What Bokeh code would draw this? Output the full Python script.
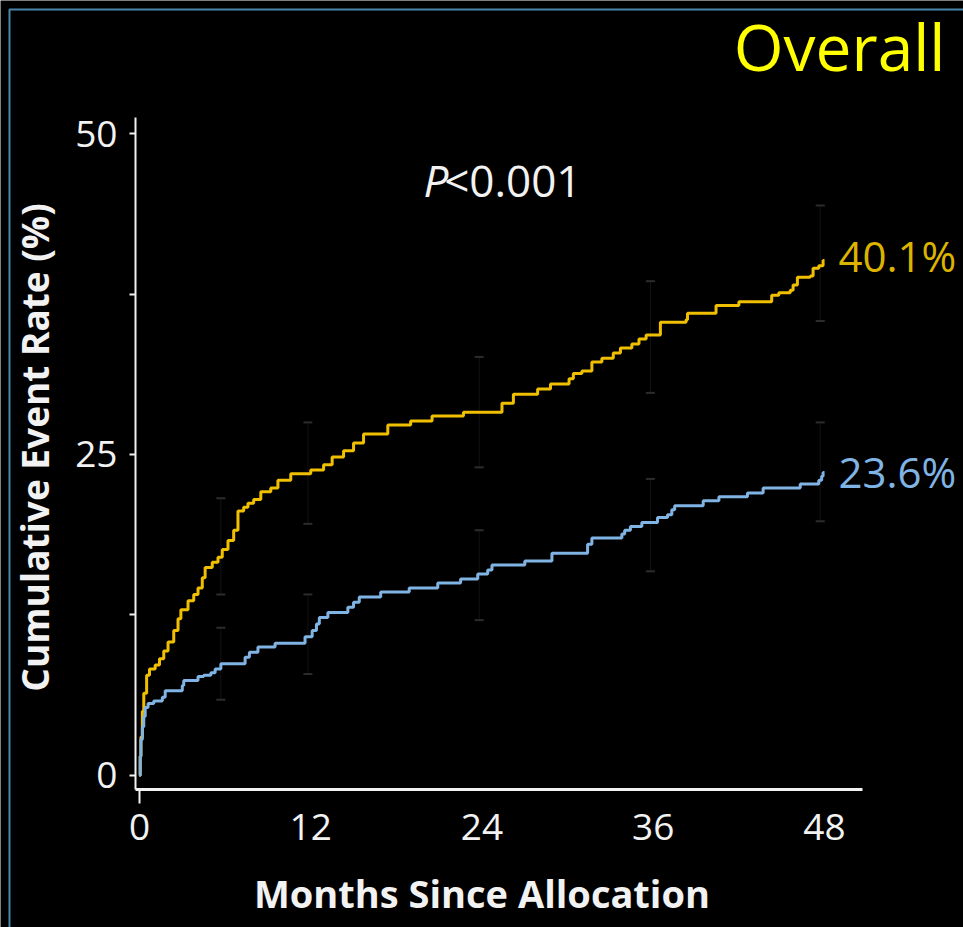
from bokeh.plotting import figure
from bokeh.models import (FixedTicker, Label, Whisker, TeeHead, ColumnDataSource,
                          Range1d, LinearAxis)
from bokeh.embed import file_html
from bokeh.resources import INLINE

# ---------------- data ----------------
gold_months = [0, 0.05, 0.1, 0.2, 0.3, 0.5, 0.7, 1.1, 1.4, 1.7, 2.0, 2.4, 2.7, 2.9, 3.4, 3.8,
               4.1, 4.4, 4.6, 5.1, 5.5, 5.8, 6.2, 6.6, 6.9, 7.3, 7.6, 8.0, 8.5, 9.2, 9.7,
               10.6, 12.0, 12.9, 13.5, 14.3, 15.0, 15.7, 17.4, 19.0, 20.5, 22.7, 25.4, 26.2,
               27.9, 28.8, 30.1, 30.4, 31.0, 31.7, 32.4, 33.2, 33.7, 34.5, 35.0, 35.5, 36.5,
               38.3, 38.4, 40.4, 42.0, 44.3, 44.8, 45.6, 45.8, 46.1, 47.0, 47.2, 47.6, 47.9, 48.0]
gold_rate = [0.0, 1.5, 3.0, 5.0, 6.4, 7.8, 8.3, 8.6, 9.1, 9.7, 10.4, 11.3, 12.2, 12.9, 13.6, 14.1,
             14.6, 15.4, 16.2, 16.6, 17.0, 17.6, 18.3, 19.1, 20.6, 20.9, 21.2, 21.5, 22.1, 22.4, 23.0,
             23.5, 23.8, 24.2, 24.8, 25.3, 25.9, 26.6, 27.3, 27.6, 28.0, 28.3, 29.0, 29.7,
             30.1, 30.5, 30.9, 31.3, 31.5, 32.2, 32.5, 32.9, 33.3, 33.6, 34.0, 34.3, 35.3,
             35.5, 36.0, 36.6, 36.9, 37.4, 37.6, 37.8, 38.2, 38.8, 38.9, 39.5, 39.7, 40.1, 40.1]

blue_months = [0, 0.05, 0.1, 0.2, 0.3, 0.4, 0.6, 1.0, 1.6, 1.8, 3.0, 3.1, 4.1, 4.5, 5.0, 5.3,
               5.7, 7.4, 7.7, 8.3, 9.5, 11.6, 12.1, 12.4, 12.6, 13.2, 14.6, 15.0, 15.4, 16.9,
               18.9, 20.9, 22.5, 23.7, 24.4, 24.7, 27.0, 28.9, 31.4, 31.7, 33.8, 34.0, 34.4,
               35.2, 36.3, 37.0, 37.3, 37.5, 39.5, 40.6, 42.6, 43.7, 46.3, 47.6, 47.8, 47.9, 48.0]
blue_rate = [0.0, 1.5, 2.8, 3.8, 4.6, 5.3, 5.6, 5.8, 6.1, 6.6, 7.0, 7.4, 7.7, 7.8, 8.0, 8.3,
             8.7, 9.2, 9.6, 10.0, 10.3, 10.8, 11.3, 11.8, 12.3, 12.7, 13.1, 13.5, 13.9, 14.3,
             14.6, 15.0, 15.3, 15.7, 16.0, 16.4, 16.7, 17.3, 18.0, 18.5, 18.8, 19.1, 19.4,
             19.7, 20.1, 20.3, 20.7, 21.0, 21.4, 21.7, 22.0, 22.4, 22.7, 23.0, 23.3, 23.6, 23.6]

ci_months = [5.7, 11.8, 23.8, 35.8, 47.7]
gold_ci_low = [14.1, 19.6, 24.0, 29.8, 35.4]
gold_ci_high = [21.6, 27.5, 32.6, 38.5, 44.4]
blue_ci_low = [5.9, 7.9, 12.1, 15.9, 19.8]
blue_ci_high = [11.5, 14.1, 19.1, 23.1, 27.5]

x_ticks = [0, 12, 24, 36, 48]
y_ticks = [0, 12.5, 25, 37.5, 50]
y_tick_labels = {12.5: "", 37.5: ""}

title_text = "Overall"
p_text_italic = "P"
p_text_rest = "<0.001"
gold_end_label = "40.1%"
blue_end_label = "23.6%"
x_label = "Months Since Allocation"
y_label = "Cumulative Event Rate (%)"

# ---------------- geometry / styling ----------------
FONT = "Open Sans"
GOLD = "#f0c000"
GOLD_TXT = "#dcb400"
BLUE = "#80b4e4"
BLUE_TXT = "#80b4e4"
WHITE = "#f2f2f2"
BORDER = "#4a86a8"

X_LO, X_HI = -0.28, 50.66      # extent of the drawn x axis line
Y_LO, Y_HI = -1.09, 51.25      # extent of the drawn y axis line
XT_SHIFT = -1.2                # x-axis title sits slightly left of the axis centre
YT_SHIFT = 0.5                 # y-axis title sits slightly above the axis centre

p = figure(width=963, height=927, output_backend="svg", toolbar_location=None,
           x_range=Range1d(-9.74, 57.74), y_range=Range1d(-11.84, 60.36),
           min_border_left=0, min_border_right=0, min_border_top=0, min_border_bottom=0,
           background_fill_color="black", border_fill_color="black", outline_line_color=None)
p.grid.visible = False

xa, ya = p.xaxis[0], p.yaxis[0]
xa.fixed_location = Y_LO
ya.fixed_location = X_LO
xa.bounds = (X_LO, X_HI)
ya.bounds = (Y_LO, Y_HI)
xa.ticker = FixedTicker(ticks=x_ticks)
ya.ticker = FixedTicker(ticks=y_ticks)
ya.major_label_overrides = y_tick_labels
for ax in (xa, ya):
    ax.axis_line_color = WHITE
    ax.major_label_text_color = WHITE
    ax.major_label_text_font = FONT
    ax.major_label_text_font_size = "37px"
    ax.minor_tick_line_color = None
xa.axis_line_width = 3
ya.axis_line_width = 2
xa.major_tick_line_color = None
xa.major_tick_out = 0
xa.major_tick_in = 0
xa.major_label_standoff = 25
ya.major_tick_line_color = WHITE
ya.major_tick_line_width = 2
ya.major_tick_out = 6
ya.major_tick_in = 0
ya.major_label_standoff = 12

# single tick mark at month 0 on the x axis
zero_tick = LinearAxis(ticker=FixedTicker(ticks=x_ticks[:1]), fixed_location=Y_LO,
                       axis_line_color=None, major_tick_line_color=WHITE,
                       major_tick_line_width=2, major_tick_out=14, major_tick_in=0,
                       minor_tick_line_color=None, major_label_text_font_size="0px",
                       major_label_overrides={0: ""})
p.add_layout(zero_tick, "below")

# axis titles (carried by tick-less axes so they can be centred where the original has them)
x_title_axis = LinearAxis(ticker=FixedTicker(ticks=[]), fixed_location=Y_LO,
                          bounds=(X_LO + XT_SHIFT, X_HI + XT_SHIFT), axis_line_color=None,
                          major_tick_line_color=None, minor_tick_line_color=None,
                          axis_label=x_label, axis_label_text_font=FONT,
                          axis_label_text_font_style="bold", axis_label_text_font_size="38px",
                          axis_label_text_color=WHITE, axis_label_standoff=77)
p.add_layout(x_title_axis, "below")
y_title_axis = LinearAxis(ticker=FixedTicker(ticks=[]), fixed_location=X_LO,
                          bounds=(Y_LO + YT_SHIFT, Y_HI + YT_SHIFT), axis_line_color=None,
                          major_tick_line_color=None, minor_tick_line_color=None,
                          axis_label=y_label, axis_label_text_font=FONT,
                          axis_label_text_font_style="bold", axis_label_text_font_size="37px",
                          axis_label_text_color=WHITE, axis_label_standoff=76)
p.add_layout(y_title_axis, "left")

# outer steel-blue frame (left and top edges visible)
p.line([-9.11, -9.11, 100], [-100, 59.66, 59.66], line_color=BORDER, line_width=2)

# faint confidence bars
for lo, hi in ((gold_ci_low, gold_ci_high), (blue_ci_low, blue_ci_high)):
    src = ColumnDataSource(dict(t=ci_months, lo=lo, hi=hi))
    p.add_layout(Whisker(base="t", lower="lo", upper="hi", source=src,
                         line_color="#121212", line_width=1,
                         upper_head=TeeHead(size=9, line_color="#2c2c2c", line_width=2),
                         lower_head=TeeHead(size=9, line_color="#2c2c2c", line_width=2)))

# curves
p.step(gold_months, gold_rate, mode="after", line_color=GOLD, line_width=3)
p.step(blue_months, blue_rate, mode="after", line_color=BLUE, line_width=3)

# texts
p.add_layout(Label(x=56.48, y=56.8, text=title_text, text_font=FONT, text_font_size="64px",
                   text_color="#ffff00", text_align="right", text_baseline="alphabetic"))
p.add_layout(Label(x=19.9, y=46.35, text=p_text_italic, text_font=FONT, text_font_size="44px",
                   text_font_style="italic", text_color=WHITE, text_baseline="alphabetic"))
p.add_layout(Label(x=21.35, y=46.35, text=p_text_rest, text_font=FONT, text_font_size="44px",
                   text_color=WHITE, text_baseline="alphabetic"))
p.add_layout(Label(x=48.98, y=40.5, text=gold_end_label, text_font=FONT, text_font_size="42px",
                   text_color=GOLD_TXT, text_baseline="alphabetic"))
p.add_layout(Label(x=48.98, y=23.7, text=blue_end_label, text_font=FONT, text_font_size="42px",
                   text_color=BLUE_TXT, text_baseline="alphabetic"))

open("out.html", "w").write(file_html(p, INLINE))
